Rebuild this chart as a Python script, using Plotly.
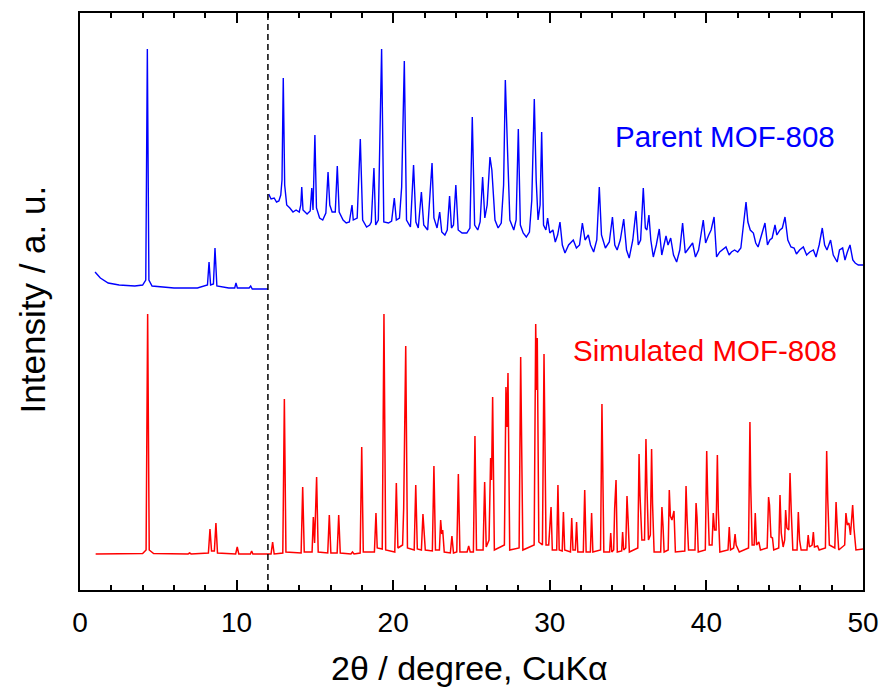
import plotly.graph_objects as go

# ---------------- data (2theta in degree, intensity in a.u.) ----------------
# Simulated MOF-808 (red)
sim_x = [1.0, 4.0, 4.22, 4.32, 4.42, 4.7, 6.9, 7.0, 7.1, 8.2, 8.3, 8.4, 8.58, 8.68, 8.78, 9.94, 10.04, 10.14,
         10.88, 10.96, 11.04, 12.2, 12.3, 12.4, 12.95, 13.05, 13.15, 14.12, 14.22, 14.32, 14.82, 14.9, 14.98,
         15.11, 15.21, 15.82, 15.92, 16.02, 16.42, 16.52, 16.62, 17.3, 17.4, 17.5, 17.89, 17.99, 18.09, 18.8,
         18.9, 18.98, 19.3, 19.41, 19.52, 20.1, 20.2, 20.3, 20.6, 20.67, 20.8, 20.91, 21.34, 21.44, 21.54,
         21.8, 21.9, 21.98, 22.05, 22.5, 22.6, 22.7, 22.95, 23.03, 23.1, 23.16, 23.26, 23.65, 23.75, 23.85,
         24.06, 24.16, 24.26, 24.72, 24.82, 24.92, 25.12, 25.22, 25.32, 25.74, 25.84, 25.94, 26.12, 26.22, 26.28,
         26.35, 26.46, 27.1, 27.2, 27.27, 27.33, 27.44, 28.04, 28.14, 28.2, 28.28, 29.0, 29.1, 29.15, 29.2,
         29.3, 29.53, 29.63, 29.68, 29.76, 29.93, 30.01, 30.08, 30.16, 30.44, 30.52, 30.6, 30.79, 30.87, 30.95,
         31.32, 31.4, 31.48, 31.63, 31.71, 31.79, 32.14, 32.23, 32.32, 32.59, 32.67, 32.75, 33.24, 33.33, 33.38,
         33.45, 33.82, 33.89, 33.96, 34.08, 34.14, 34.23, 34.31, 34.59, 34.65, 34.72, 34.85, 34.93, 35.0, 35.08,
         35.62, 35.7, 35.76, 35.88, 36.05, 36.14, 36.2, 36.3, 36.42, 36.5, 36.56, 36.66, 37.08, 37.16, 37.23,
         37.3, 37.56, 37.63, 37.7, 37.8, 37.93, 38.02, 38.62, 38.7, 38.77, 38.86, 39.27, 39.34, 39.4, 39.48,
         39.93, 40.02, 40.08, 40.18, 40.36, 40.44, 40.52, 40.62, 40.7, 40.76, 40.86, 41.38, 41.46, 41.54, 41.74,
         41.83, 41.9, 42.0, 42.1, 42.69, 42.78, 42.83, 42.92, 43.05, 43.12, 43.2, 43.35, 43.45, 43.88, 43.97,
         44.03, 44.12, 44.22, 44.3, 44.62, 44.7, 44.78, 44.9, 45.0, 45.06, 45.14, 45.26, 45.34, 45.42, 45.52,
         45.79, 45.87, 45.95, 46.05, 46.42, 46.5, 46.58, 46.75, 46.83, 46.9, 47.1, 47.2, 47.6, 47.68, 47.75,
         47.85, 48.2, 48.28, 48.35, 48.45, 48.83, 48.91, 49.0, 49.1, 49.2, 49.34, 49.42, 49.55, 50.0]
sim_y = [36, 36.5, 40, 276, 40, 36.5, 36, 37, 36, 37, 61, 39, 39, 67, 37, 36, 43, 36,
         36, 39, 36, 36, 48, 36, 37, 191, 38, 37, 103, 38, 38, 73, 47,
         113, 38, 37, 75, 37, 37, 75, 37, 36, 38, 36, 37, 143, 38, 38,
         77, 42, 41, 276, 40, 38, 107, 42, 45, 82, 244, 42, 40, 105, 41,
         40, 76, 48, 40, 39, 124, 40, 40, 70, 56, 60, 38, 37, 54, 37,
         38, 116, 38, 38, 44, 38, 38, 154, 40, 40, 108, 43, 50, 132, 110,
         193, 40, 45, 203, 163, 217, 40, 42, 233, 160, 40, 45, 266, 200, 252,
         48, 45, 236, 157, 45, 45, 70, 83, 40, 40, 105, 40, 39, 78, 40,
         38, 72, 40, 40, 68, 38, 38, 100, 38, 38, 77, 38, 40, 186, 115,
         38, 38, 57, 38, 40, 81, 110, 38, 39, 58, 40, 42, 94, 70, 38,
         42, 136, 95, 50, 50, 151, 105, 50, 55, 141, 87, 38, 38, 83, 64,
         38, 40, 100, 74, 70, 79, 38, 39, 104, 70, 40, 40, 87, 73, 38,
         40, 139, 95, 45, 45, 77, 60, 60, 135, 80, 38, 40, 63, 40, 42,
         56, 45, 42, 38, 42, 168, 105, 45, 45, 77, 45, 48, 40, 42, 93,
         85, 53, 52, 40, 42, 95, 57, 43, 50, 80, 62, 60, 117, 78, 40,
         40, 78, 50, 40, 40, 55, 43, 45, 58, 43, 44, 40, 42, 139, 90,
         45, 42, 88, 65, 40, 45, 77, 65, 67, 55, 85, 62, 40, 41]

# Parent MOF-808 (blue), low-angle part (below 12 degree)
par_low_x = [0.96, 1.3, 1.8, 2.5, 3.5, 4.0, 4.2, 4.3, 4.4, 4.6, 6.0, 7.5, 8.14, 8.24, 8.34, 8.52, 8.62,
             8.74, 9.5, 9.88, 9.96, 10.05, 10.8, 10.9, 11.0, 12.0]
par_low_y = [318, 312, 307, 305, 304, 305, 310, 541, 310, 304, 302, 302, 305, 328, 305, 306, 342,
             304, 302, 302, 307, 302, 302, 304, 301, 301]

# Parent MOF-808 (blue), high-angle part (above 12 degree, rescaled)
par_high_x = [12.05, 12.2, 12.4, 12.55, 12.7, 12.82, 12.9, 12.98, 13.07, 13.2, 13.4, 13.6, 13.8, 14.0,
              14.1, 14.16, 14.24, 14.5, 14.7, 14.8, 14.88, 15.0, 15.1, 15.3, 15.5, 15.7, 15.84, 15.95,
              16.1, 16.3, 16.43, 16.55, 16.8, 17.0, 17.2, 17.37, 17.45, 17.7, 17.9, 18.05, 18.3, 18.5,
              18.6, 18.77, 18.88, 19.05, 19.26, 19.4, 19.7, 19.9, 20.07, 20.2, 20.4, 20.54, 20.71, 20.85,
              21.1, 21.3, 21.45, 21.6, 21.8, 21.95, 22.2, 22.48, 22.6, 22.8, 22.97, 23.1, 23.3, 23.45,
              23.6, 23.72, 23.85, 24.0, 24.15, 24.4, 24.7, 24.9, 25.05, 25.2, 25.4, 25.55, 25.71, 25.85,
              26.0, 26.18, 26.3, 26.5, 26.7, 26.9, 27.05, 27.16, 27.3, 27.45, 27.7, 27.85, 27.99, 28.12,
              28.3, 28.5, 28.7, 28.85, 29.01, 29.13, 29.25, 29.38, 29.48, 29.6, 29.75, 29.86, 30.0, 30.2,
              30.35, 30.5, 30.65, 30.8, 30.97, 31.2, 31.5, 31.7, 31.9, 32.08, 32.25, 32.46, 32.6, 32.8,
              33.0, 33.16, 33.3, 33.55, 33.8, 34.0, 34.15, 34.3, 34.5, 34.72, 34.9, 35.07, 35.3, 35.5,
              35.65, 35.8, 35.97, 36.1, 36.2, 36.33, 36.45, 36.61, 36.8, 36.99, 37.15, 37.3, 37.42, 37.55,
              37.72, 37.9, 38.1, 38.3, 38.48, 38.65, 38.9, 39.12, 39.3, 39.5, 39.8, 39.95, 40.15, 40.3,
              40.49, 40.65, 40.85, 41.0, 41.25, 41.45, 41.6, 41.8, 42.0, 42.2, 42.4, 42.53, 42.65, 42.8,
              43.0, 43.15, 43.3, 43.5, 43.74, 43.9, 44.05, 44.2, 44.38, 44.5, 44.7, 44.85, 45.02, 45.2,
              45.4, 45.6, 45.75, 45.95, 46.19, 46.4, 46.6, 46.83, 47.0, 47.2, 47.4, 47.55, 47.7, 47.93,
              48.1, 48.35, 48.5, 48.7, 48.85, 49.0, 49.17, 49.35, 49.5, 49.7, 50.0]
par_high_y = [396, 391, 392, 388, 389, 395, 410, 512, 405, 385, 382, 378, 380, 378,
              385, 403, 380, 376, 379, 402, 380, 455, 382, 372, 370, 377, 418, 385,
              378, 378, 424, 378, 370, 367, 368, 385, 370, 372, 451, 370, 363, 365,
              368, 422, 365, 370, 541, 368, 367, 369, 392, 370, 372, 403, 529, 370,
              363, 425, 368, 362, 398, 365, 360, 427, 372, 362, 378, 358, 355, 360,
              394, 362, 365, 405, 360, 357, 357, 362, 473, 365, 360, 368, 413, 372,
              385, 433, 420, 370, 362, 367, 405, 510, 440, 370, 360, 370, 461, 365,
              357, 353, 358, 390, 491, 410, 370, 385, 458, 365, 360, 372, 357, 360,
              348, 355, 368, 345, 337, 345, 350, 342, 345, 367, 350, 355, 345, 338,
              350, 403, 355, 342, 348, 373, 345, 340, 350, 371, 340, 332, 350, 379,
              345, 350, 402, 362, 360, 375, 350, 333, 345, 361, 335, 345, 354, 345,
              352, 335, 328, 340, 367, 337, 342, 347, 333, 340, 370, 347, 355, 360,
              373, 333, 338, 340, 343, 335, 338, 340, 338, 342, 370, 388, 368, 360,
              357, 347, 343, 355, 367, 345, 350, 352, 365, 355, 360, 362, 373, 350,
              343, 342, 336, 340, 343, 335, 338, 340, 333, 345, 362, 345, 340, 350,
              335, 328, 340, 342, 330, 338, 345, 330, 327, 325, 325]

x_ticks = [0, 10, 20, 30, 40, 50]
split_angle = 12
labels = ["Parent MOF-808", "Simulated MOF-808"]
label_pos = [(41.2, 454), (39.9, 240)]

FONT = "Liberation Sans, Arial, sans-serif"

fig = go.Figure()
fig.add_trace(go.Scatter(x=par_low_x, y=par_low_y, mode="lines",
                         line=dict(color="#0000FF", width=1.4), hoverinfo="skip"))
fig.add_trace(go.Scatter(x=par_high_x, y=par_high_y, mode="lines",
                         line=dict(color="#0000FF", width=1.4), hoverinfo="skip"))
fig.add_trace(go.Scatter(x=sim_x, y=sim_y, mode="lines",
                         line=dict(color="#FF0000", width=1.5), hoverinfo="skip"))

fig.add_shape(type="line", x0=split_angle, x1=split_angle, xref="x", y0=0, y1=1, yref="paper",
              line=dict(color="black", width=1.5, dash="6px,4px"))

fig.add_annotation(x=label_pos[0][0], y=label_pos[0][1], text=labels[0], showarrow=False,
                   xanchor="center", yanchor="middle",
                   font=dict(family=FONT, size=29.5, color="#0000FF"))
fig.add_annotation(x=label_pos[1][0], y=label_pos[1][1], text=labels[1], showarrow=False,
                   xanchor="center", yanchor="middle",
                   font=dict(family=FONT, size=29.5, color="#FF0000"))
fig.add_annotation(x=-0.061, y=0.504, xref="paper", yref="paper", text="Intensity / a. u.",
                   textangle=-90, showarrow=False, xanchor="center", yanchor="middle",
                   font=dict(family=FONT, size=35, color="black"))
fig.add_annotation(x=0.498, y=-0.135, xref="paper", yref="paper", text="2θ / degree, CuKα",
                   showarrow=False, xanchor="center", yanchor="middle",
                   font=dict(family=FONT, size=34, color="black"))

fig.update_xaxes(range=[0, 50], tickvals=x_ticks, ticks="inside", ticklen=10, tickwidth=2,
                 tickcolor="black", showline=True, linecolor="black", linewidth=2, mirror="ticks",
                 showgrid=False, zeroline=False, automargin=False, ticklabelstandoff=6,
                 minor=dict(dtick=2, ticks="inside", ticklen=5, tickwidth=1.5, tickcolor="black",
                            showgrid=False),
                 tickfont=dict(family=FONT, size=28, color="black"))
fig.update_yaxes(range=[0, 577], showticklabels=False, ticks="", showline=True, linecolor="black",
                 linewidth=1.5, mirror=True, showgrid=False, zeroline=False, automargin=False)

fig.update_layout(width=883, height=691, margin=dict(l=80, r=20, t=13, b=101),
                  plot_bgcolor="white", paper_bgcolor="white", showlegend=False,
                  hovermode=False)

fig.write_html("out.html")
